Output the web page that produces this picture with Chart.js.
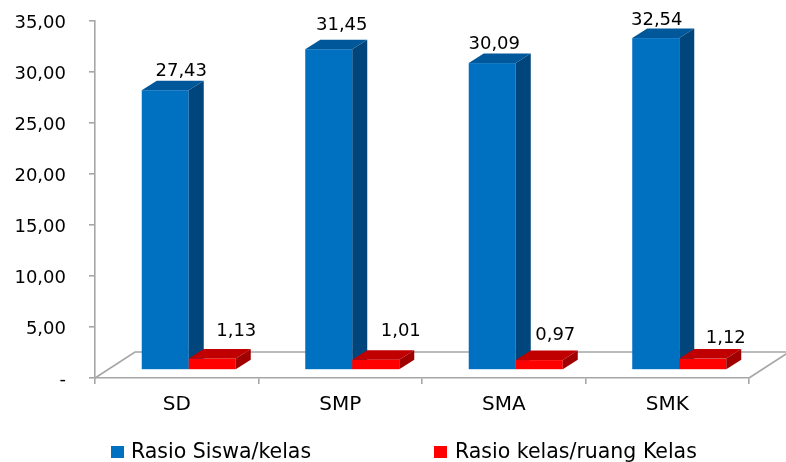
<!DOCTYPE html>
<html>
<head>
<meta charset="utf-8">
<script src="https://cdn.jsdelivr.net/npm/chart.js@4.4.1/dist/chart.umd.min.js"></script>
<style>
  html, body { margin: 0; padding: 0; background: #ffffff; }
  #wrap { width: 786px; height: 462px; position: relative; }
</style>
</head>
<body>
<div id="wrap"><canvas id="chart" width="786" height="462"></canvas></div>
<script>
// Jenjang sekolah
const categories = ['SD', 'SMP', 'SMA', 'SMK'];
// Rasio siswa per kelas
const rasioSiswaKelas = [27.43, 31.45, 30.09, 32.54];
// Rasio kelas per ruang kelas
const rasioKelasRuang = [1.13, 1.01, 0.97, 1.12];
// Nilai tick sumbu Y
const yTicks = [0, 5, 10, 15, 20, 25, 30, 35];

const seriesNames = ['Rasio Siswa/kelas', 'Rasio kelas/ruang Kelas'];

// Gaya tampilan
const FONT = 'DejaVu Sans';
const AXIS_COLOR = '#a6a6a6';
const faces = [
  { front: '#0070c0', top: '#00589a', side: '#00467c' },
  { front: '#ff0000', top: '#c00000', side: '#a00000' }
];
const FLOOR_DEPTH = { dx: 40, dy: -26 };   // kedalaman lantai 3D
const BAR_SHIFT = { dx: 12, dy: -8 };      // posisi batang di dalam lantai
const BAR_DEPTH = { dx: 15, dy: -9.5 };    // ketebalan batang
// geser label nilai relatif terhadap sisi atas-depan batang
const labelNudge = [
  [[16, -19], [13, -24], [2, -19], [1, -18]],
  [[24, -27], [25, -28], [16, -25], [23, -20]]
];

const fmt = v => v.toFixed(2).replace('.', ',');

const bar3d = {
  id: 'bar3d',
  beforeDatasetsDraw(chart) {
    const ctx = chart.ctx;
    const { left, right, bottom } = chart.chartArea;
    // lantai 3D
    ctx.save();
    ctx.strokeStyle = AXIS_COLOR;
    ctx.lineWidth = 1.6;
    ctx.beginPath();
    ctx.moveTo(left, bottom);
    ctx.lineTo(left + FLOOR_DEPTH.dx, bottom + FLOOR_DEPTH.dy);
    ctx.lineTo(right + FLOOR_DEPTH.dx, bottom + FLOOR_DEPTH.dy);
    ctx.lineTo(right, bottom);
    ctx.stroke();
    ctx.restore();

    const metas = chart.data.datasets.map((d, i) => chart.getDatasetMeta(i));
    for (let c = 0; c < categories.length; c++) {
      metas.forEach((meta, s) => {
        const el = meta.data[c];
        const p = el.getProps(['x', 'y', 'base', 'width'], true);
        const x0 = p.x - p.width / 2 + BAR_SHIFT.dx;
        const x1 = p.x + p.width / 2 + BAR_SHIFT.dx;
        const yt = p.y + BAR_SHIFT.dy;
        const yb = p.base + BAR_SHIFT.dy;
        const f = faces[s];
        ctx.save();
        // depan
        ctx.fillStyle = f.front;
        ctx.fillRect(x0, yt, x1 - x0, yb - yt);
        // atas
        ctx.fillStyle = f.top;
        ctx.beginPath();
        ctx.moveTo(x0, yt);
        ctx.lineTo(x1, yt);
        ctx.lineTo(x1 + BAR_DEPTH.dx, yt + BAR_DEPTH.dy);
        ctx.lineTo(x0 + BAR_DEPTH.dx, yt + BAR_DEPTH.dy);
        ctx.closePath();
        ctx.fill();
        // samping
        ctx.fillStyle = f.side;
        ctx.beginPath();
        ctx.moveTo(x1, yt);
        ctx.lineTo(x1 + BAR_DEPTH.dx, yt + BAR_DEPTH.dy);
        ctx.lineTo(x1 + BAR_DEPTH.dx, yb + BAR_DEPTH.dy);
        ctx.lineTo(x1, yb);
        ctx.closePath();
        ctx.fill();
        ctx.restore();
      });
    }
    // label nilai
    ctx.save();
    ctx.font = '18px "' + FONT + '"';
    ctx.fillStyle = '#000000';
    ctx.textAlign = 'center';
    ctx.textBaseline = 'middle';
    metas.forEach((meta, s) => {
      meta.data.forEach((el, c) => {
        const p = el.getProps(['x', 'y'], true);
        const v = chart.data.datasets[s].data[c];
        const n = labelNudge[s][c];
        ctx.fillText(fmt(v), p.x + BAR_SHIFT.dx + n[0], p.y + BAR_SHIFT.dy + n[1]);
      });
    });
    ctx.restore();
    return false;
  },
  afterDraw(chart) {
    // legenda
    const ctx = chart.ctx;
    const items = [
      { box: 111, text: 131 },
      { box: 434, text: 455 }
    ];
    ctx.save();
    ctx.font = '20.5px "' + FONT + '"';
    ctx.textAlign = 'left';
    ctx.textBaseline = 'middle';
    chart.data.datasets.forEach((d, i) => {
      ctx.fillStyle = d.backgroundColor;
      ctx.fillRect(items[i].box, 446, 13, 12);
      ctx.fillStyle = '#000000';
      ctx.fillText(d.label, items[i].text, 453);
    });
    ctx.restore();
  }
};

new Chart(document.getElementById('chart'), {
  type: 'bar',
  data: {
    labels: categories,
    datasets: [
      { label: seriesNames[0], data: rasioSiswaKelas, backgroundColor: faces[0].front },
      { label: seriesNames[1], data: rasioKelasRuang, backgroundColor: faces[1].front }
    ]
  },
  options: {
    responsive: false,
    animation: false,
    devicePixelRatio: 1,
    layout: { padding: { left: 10, right: 37, top: 21, bottom: 46 } },
    datasets: { bar: { categoryPercentage: 0.575, barPercentage: 1 } },
    plugins: { legend: { display: false }, tooltip: { enabled: false } },
    scales: {
      x: {
        grid: { display: true, drawOnChartArea: false, drawTicks: true, tickLength: 6, color: AXIS_COLOR, lineWidth: 1.6 },
        border: { display: true, color: AXIS_COLOR, width: 1.6 },
        ticks: { color: '#000000', font: { family: FONT, size: 20 }, padding: 9 },
        afterFit: s => { s.height = 38; s.paddingLeft = 0; s.paddingRight = 0; }
      },
      y: {
        min: 0,
        max: 35,
        afterBuildTicks: s => { s.ticks = yTicks.map(v => ({ value: v })); },
        grid: { display: true, drawOnChartArea: false, drawTicks: true, tickLength: 6, color: AXIS_COLOR, lineWidth: 1.6 },
        border: { display: true, color: AXIS_COLOR, width: 1.6 },
        ticks: {
          color: '#000000',
          font: { family: FONT, size: 18 },
          padding: 23,
          labelOffset: 2,
          callback: v => (v === 0 ? '-' : fmt(v))
        },
        afterFit: s => { s.width = 85; s.paddingTop = 0; s.paddingBottom = 0; }
      }
    }
  },
  plugins: [bar3d]
});
</script>
</body>
</html>
